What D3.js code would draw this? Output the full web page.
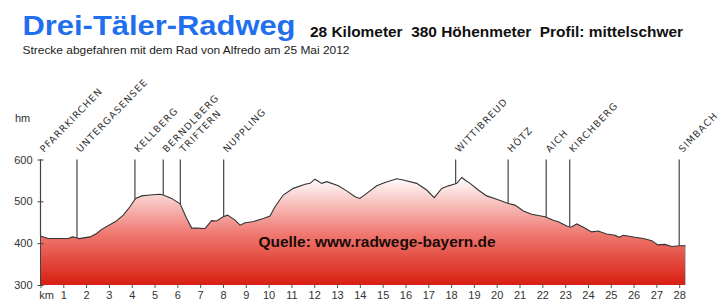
<!DOCTYPE html>
<html>
<head>
<meta charset="utf-8">
<script src="https://cdn.jsdelivr.net/npm/d3@7"></script>
<style>
  html, body { margin: 0; padding: 0; background: #fff; }
  svg { display: block; font-family: "Liberation Sans", Arial, sans-serif; }
</style>
</head>
<body>
<div id="chart"></div>
<script>
// profile: km and metres above sea level
const profileKm = [0, 0.34, 1.22, 1.4, 1.59, 1.69, 2.17, 2.46, 2.68, 3.27, 3.63, 3.92, 4.17, 4.44, 4.8, 5.24, 5.38, 5.75, 6.12, 6.41, 6.63, 6.85, 7.21, 7.5, 7.72, 8.01, 8.2, 8.53, 8.75, 8.97, 9.3, 9.77, 10.06, 10.28, 10.64, 11.08, 11.6, 11.82, 12.03, 12.33, 12.55, 13.06, 13.42, 13.79, 14.0, 14.3, 14.74, 15.1, 15.62, 15.9, 16.49, 16.93, 17.26, 17.59, 17.88, 18.13, 18.25, 18.47, 18.61, 18.83, 19.19, 19.56, 20.0, 20.51, 20.8, 21.17, 21.53, 22.12, 22.48, 22.7, 23.07, 23.26, 23.51, 23.8, 24.16, 24.45, 24.82, 25.19, 25.36, 25.55, 26.06, 26.43, 26.8, 27.06, 27.38, 27.67, 28.04, 28.28];
const profileElev = [417, 411, 411, 415, 413, 411, 415, 423, 433, 451, 467, 487, 507, 513, 515, 517, 515, 507, 494, 459, 436, 436, 435, 454, 453, 463, 467, 455, 443, 449, 451, 459, 465, 487, 515, 531, 541, 543, 553, 543, 547, 537, 525, 511, 507, 519, 537, 545, 554, 551, 543, 527, 509, 531, 537, 541, 543, 557, 551, 543, 527, 513, 505, 495, 491, 477, 469, 463, 455, 451, 441, 438, 446, 438, 427, 429, 422, 419, 414, 419, 414, 411, 406, 396, 397, 392, 394, 394];

const placeNames = ['PFARRKIRCHEN', 'UNTERGASENSEE', 'KELLBERG', 'BERNDLBERG', 'TRIFTERN', 'NUPPLING', 'WITTIBREUD', 'HÖTZ', 'AICH', 'KIRCHBERG', 'SIMBACH'];
const placeKm = [0, 1.6, 4.14, 5.38, 6.13, 8.03, 18.2, 20.5, 22.17, 23.2, 28.0];

const kmTicks = d3.range(0, 29);
const hmTicks = [300, 400, 500, 600];

const width = 726, height = 307;

const svg = d3.select('#chart').append('svg')
    .attr('width', width)
    .attr('height', height);

const x = d3.scaleLinear().domain([0, 28]).range([40.5, 679.2]);
const y = d3.scaleLinear().domain([300, 600]).range([285, 159.5]);

// heading
svg.append('text')
    .attr('x', 22.5).attr('y', 35)
    .attr('textLength', 273).attr('lengthAdjust', 'spacingAndGlyphs')
    .style('font-size', '28px').style('font-weight', 'bold')
    .style('fill', '#1f6fee')
    .text('Drei-Täler-Radweg');
svg.append('text')
    .attr('x', 310).attr('y', 36.5)
    .attr('textLength', 373).attr('lengthAdjust', 'spacingAndGlyphs')
    .style('font-size', '14.5px').style('font-weight', 'bold')
    .style('white-space', 'pre')
    .style('fill', '#111')
    .text('28 Kilometer  380 Höhenmeter  Profil: mittelschwer');
svg.append('text')
    .attr('x', 22.5).attr('y', 54)
    .attr('textLength', 327).attr('lengthAdjust', 'spacingAndGlyphs')
    .style('font-size', '11px')
    .style('fill', '#222')
    .text('Strecke abgefahren mit dem Rad von Alfredo am 25 Mai 2012');

// gradient fill for the profile
const defs = svg.append('defs');
const grad = defs.append('linearGradient')
    .attr('id', 'fillGrad')
    .attr('gradientUnits', 'userSpaceOnUse')
    .attr('x1', 0).attr('x2', 0)
    .attr('y1', y(557)).attr('y2', y(300));
grad.append('stop').attr('offset', '0%').attr('stop-color', '#ffffff');
grad.append('stop').attr('offset', '52%').attr('stop-color', '#ef7a72');
grad.append('stop').attr('offset', '100%').attr('stop-color', '#d81e10');

const points = profileKm.map((k, i) => [k, profileElev[i]]);

const area = d3.area()
    .x(d => x(d[0]))
    .y0(y(300))
    .y1(d => y(d[1]));
const line = d3.line()
    .x(d => x(d[0]))
    .y(d => y(d[1]));

svg.append('path')
    .datum(points)
    .attr('d', area)
    .style('fill', 'url(#fillGrad)');

// thin light edge at the right end
const last = points[points.length - 1];
svg.append('line')
    .attr('x1', x(last[0])).attr('x2', x(last[0]))
    .attr('y1', y(last[1])).attr('y2', y(300))
    .style('stroke', '#9fd4dc').style('stroke-width', 1);

svg.append('path')
    .datum(points)
    .attr('d', line)
    .style('fill', 'none')
    .style('stroke', '#333')
    .style('stroke-width', 1.1);

// elevation at a given km, for the place markers
const bis = d3.bisector(d => d).left;
function elevAt(k) {
    const i = Math.max(1, Math.min(profileKm.length - 1, bis(profileKm, k)));
    const k0 = profileKm[i - 1], k1 = profileKm[i];
    const t = (k - k0) / (k1 - k0);
    return profileElev[i - 1] + t * (profileElev[i] - profileElev[i - 1]);
}

const markers = svg.append('g').attr('class', 'places');
placeNames.forEach((name, i) => {
    const k = placeKm[i];
    const px = x(k);
    markers.append('line')
        .attr('x1', px).attr('x2', px)
        .attr('y1', y(600)).attr('y2', y(elevAt(k)))
        .style('stroke', '#444').style('stroke-width', 1.2);
    markers.append('text')
        .attr('transform', `translate(${px + 3.5},${y(600) - 6.5}) rotate(-46)`)
        .style('font-family', '"DejaVu Sans", Verdana, sans-serif')
        .style('font-size', '9.5px')
        .style('letter-spacing', '1.1px')
        .style('fill', '#333')
        .text(name);
});

// axes
const yAxis = svg.append('g')
    .attr('transform', `translate(${x(0)},0)`)
    .call(d3.axisLeft(y).tickValues(hmTicks).tickSize(3).tickPadding(5));
yAxis.select('.domain').style('stroke', '#444').attr('d', `M0,${y(600)}V${y(300)}`);
yAxis.selectAll('.tick line').attr('x1', 3).attr('x2', -3).style('stroke', '#444');
yAxis.selectAll('.tick text')
    .style('font-size', '11px').style('fill', '#333')
    .style('font-family', '"Liberation Sans", Arial, sans-serif');

svg.append('text')
    .attr('x', 15).attr('y', 121.5)
    .style('font-size', '11px').style('fill', '#333')
    .text('hm');

const xAxis = svg.append('g')
    .attr('transform', `translate(0,${y(300)})`)
    .call(d3.axisBottom(x).tickValues(kmTicks).tickSize(3)
        .tickFormat(d => d === 0 ? 'km' : d));
xAxis.select('.domain').remove();
xAxis.selectAll('.tick line').attr('y1', -1.5).attr('y2', 3).style('stroke', '#555');
xAxis.selectAll('.tick text')
    .attr('y', 6)
    .style('font-size', '11px').style('fill', '#333')
    .style('font-family', '"Liberation Sans", Arial, sans-serif')
    .attr('dx', d => d === 0 ? 5.5 : 0);

// source note
svg.append('text')
    .attr('x', 258.5).attr('y', 246.5)
    .attr('textLength', 237).attr('lengthAdjust', 'spacingAndGlyphs')
    .style('font-size', '15.5px').style('font-weight', 'bold')
    .style('fill', '#1a0a08')
    .text('Quelle: www.radwege-bayern.de');
</script>
</body>
</html>
